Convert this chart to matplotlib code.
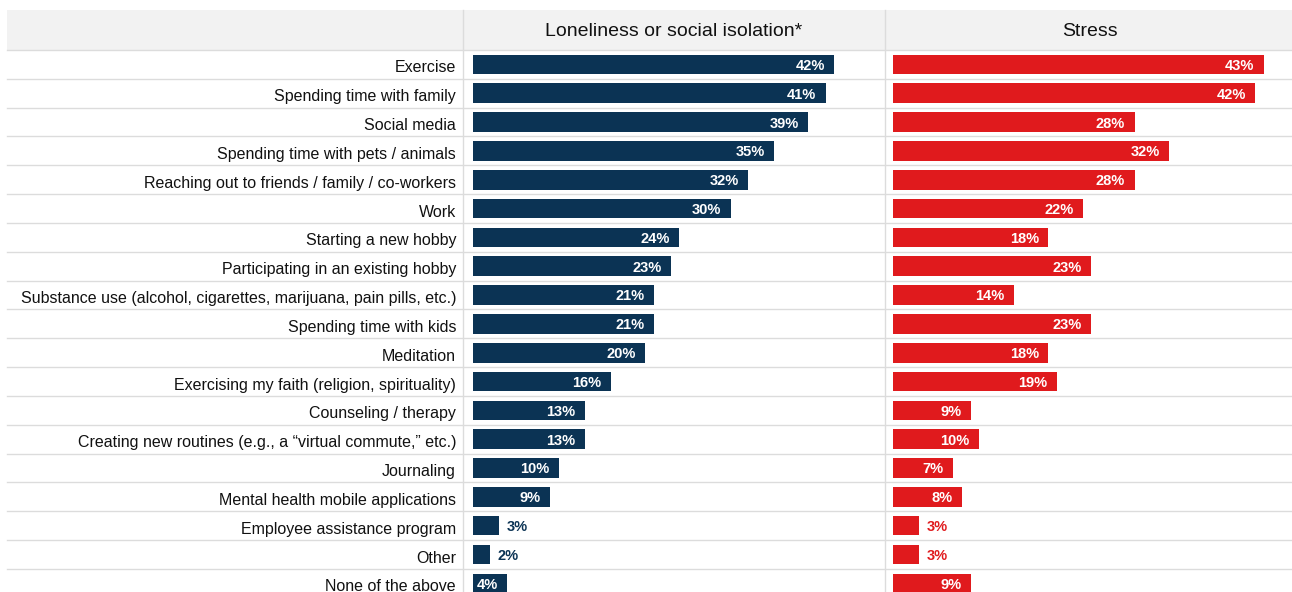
import matplotlib.pyplot as plt
from matplotlib.transforms import ScaledTranslation

plt.rcParams['font.family'] = ['Liberation Sans', 'DejaVu Sans']

categories = [
    "Exercise",
    "Spending time with family",
    "Social media",
    "Spending time with pets / animals",
    "Reaching out to friends / family / co-workers",
    "Work",
    "Starting a new hobby",
    "Participating in an existing hobby",
    "Substance use (alcohol, cigarettes, marijuana, pain pills, etc.)",
    "Spending time with kids",
    "Meditation",
    "Exercising my faith (religion, spirituality)",
    "Counseling / therapy",
    "Creating new routines (e.g., a \u201cvirtual commute,\u201d etc.)",
    "Journaling",
    "Mental health mobile applications",
    "Employee assistance program",
    "Other",
    "None of the above",
]
loneliness = [42, 41, 39, 35, 32, 30, 24, 23, 21, 21, 20, 16, 13, 13, 10, 9, 3, 2, 4]
stress = [43, 42, 28, 32, 28, 22, 18, 23, 14, 23, 18, 19, 9, 10, 7, 8, 3, 3, 9]
headers = ["Loneliness or social isolation*", "Stress"]

NAVY = "#0b3354"
RED = "#e01a1d"
GRID = "#dcdcdc"

W, H = 1292, 592
fig = plt.figure(figsize=(W / 100, H / 100), dpi=100)

# background layer in pixel units for the header band and row rules
bg = fig.add_axes([0, 0, 1, 1])
bg.set_xlim(0, W)
bg.set_ylim(H, 0)
bg.axis("off")

top, pitch = 50, 28.83
bg.fill_between([7, W], 10, top, color="#f2f2f2", lw=0)
for k in range(len(categories) + 1):
    y = top + k * pitch
    bg.plot([7, W], [y, y], color=GRID, lw=1)
for x in (463, 885):
    bg.plot([x, x], [10, H], color=GRID, lw=1)
bg.text(674, 32, headers[0], ha="center", va="center", fontsize=14, color="#111111")
bg.text(1090, 32, headers[1], ha="center", va="center", fontsize=14, color="#111111")


def panel(left, right, start, scale, values, color, show_labels):
    ax = fig.add_axes([left / W, 0, (right - left) / W, (H - top) / H])
    ax.patch.set_alpha(0)
    rows = list(range(len(values)))
    ax.barh(rows, values, height=0.68, color=color)
    ax.set_xlim(-(start - left) / scale, (right - start) / scale)
    ax.set_ylim((H - top) / pitch - 0.5, -0.5)
    for s in ax.spines.values():
        s.set_visible(False)
    ax.set_xticks([])
    ax.set_yticks(rows)
    if show_labels:
        ax.set_yticklabels(categories, fontsize=11.5, color="#111111")
        ax.tick_params(axis="y", length=0, pad=5)
        nudge = ScaledTranslation(0, -1.5 / 72, fig.dpi_scale_trans)
        for lab in ax.get_yticklabels():
            lab.set_transform(lab.get_transform() + nudge)
    else:
        ax.set_yticklabels([])
        ax.tick_params(axis="y", length=0)
    for i, v in enumerate(values):
        if v <= 3:
            ax.text(v + 0.9, i + 0.05, f"{v}%", ha="left", va="center",
                    fontsize=10.5, fontweight="bold", color=color)
        else:
            ax.text(v - 1.1, i + 0.05, f"{v}%", ha="right", va="center",
                    fontsize=10.5, fontweight="bold", color="white")
    return ax


panel(463, 885, 473, 8.6, loneliness, NAVY, True)
panel(885, W, 893, 8.63, stress, RED, False)

fig.savefig("out.png", dpi=100)
